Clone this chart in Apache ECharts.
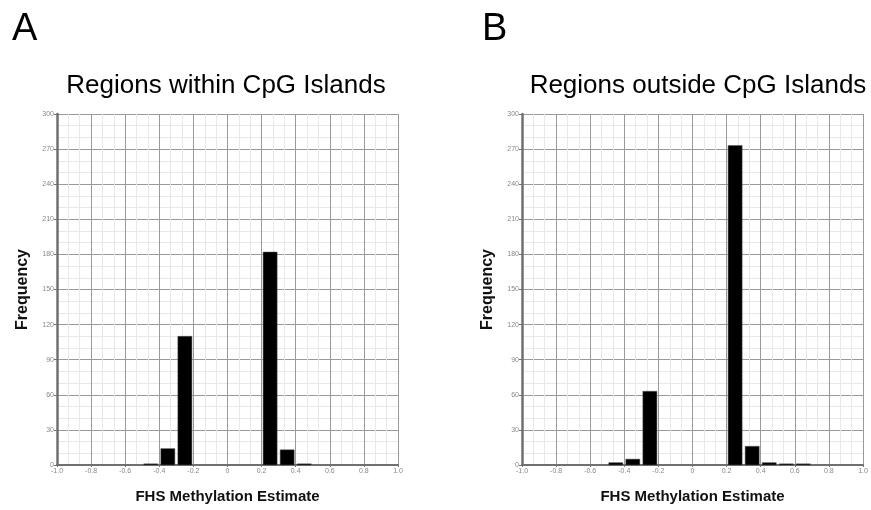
<!DOCTYPE html>
<html><head><meta charset="utf-8">
<script src="https://cdn.jsdelivr.net/npm/echarts@6/dist/echarts.min.js"></script>
<style>html,body{margin:0;padding:0;background:#fff}#c{width:871px;height:510px}</style>
</head><body><div id="c"></div>
<script>
const binStartsA = [-0.5, -0.4, -0.3, 0.2, 0.3, 0.4];
const countsA = [1, 14, 110, 182, 13, 1];
const binStartsB = [-0.5, -0.4, -0.3, 0.2, 0.3, 0.4, 0.5, 0.6];
const countsB = [2, 5, 63, 273, 16, 2, 1, 1];
const binWidth = 0.1;
const titleA = 'Regions within CpG Islands';
const titleB = 'Regions outside CpG Islands';
const xTitle = 'FHS Methylation Estimate';
const yTitle = 'Frequency';

const chart = echarts.init(document.getElementById('c'));
function xAxis(gi){
  return {type:'value', gridIndex:gi, min:-1, max:1, interval:0.2,
    axisLine:{show:true, onZero:false, lineStyle:{color:'#707070', width:2}},
    axisTick:{show:true, length:2, lineStyle:{color:'#707070'}},
    axisLabel:{fontSize:7, color:'#888', margin:3, fontFamily:'Liberation Sans',
      formatter:v=> Math.abs(v)<1e-9 ? '0' : v.toFixed(1)},
    splitLine:{show:true, lineStyle:{color:'#9a9a9a', width:1}},
    minorTick:{show:false, splitNumber:3},
    minorSplitLine:{show:true, lineStyle:{color:'#e8e8e8', width:1}},
    name:xTitle, nameLocation:'middle', nameGap:24,
    nameTextStyle:{fontSize:15, fontWeight:'bold', color:'#111', fontFamily:'Liberation Sans'}};
}
function yAxis(gi){
  return {type:'value', gridIndex:gi, min:0, max:300, interval:30,
    axisLine:{show:true, onZero:false, lineStyle:{color:'#707070', width:2.5}},
    axisTick:{show:true, length:3, lineStyle:{color:'#707070'}},
    axisLabel:{fontSize:7, color:'#888', margin:3, fontFamily:'Liberation Sans'},
    splitLine:{show:true, lineStyle:{color:'#9a9a9a', width:1}},
    minorTick:{show:false, splitNumber:3},
    minorSplitLine:{show:true, lineStyle:{color:'#e8e8e8', width:1}},
    name:yTitle, nameLocation:'middle', nameGap:26, nameRotate:90,
    nameTextStyle:{fontSize:16, fontWeight:'bold', color:'#111', fontFamily:'Liberation Sans'}};
}
function hist(gi, starts, counts){
  return {type:'custom', xAxisIndex:gi, yAxisIndex:gi,
    data: starts.map((s,i)=>[s, s+binWidth, counts[i]]),
    renderItem:(params, api)=>{
      const p0 = api.coord([api.value(0), api.value(2)]);
      const p1 = api.coord([api.value(1), 0]);
      return {type:'rect', shape:{x:p0[0]+1.5, y:p0[1], width:p1[0]-p0[0]-3, height:p1[1]-p0[1]},
        style:{fill:'#000', stroke:'#555', lineWidth:0.5}};
    }};
}
chart.setOption({
  animation:false,
  title:[
    {text:'A', left:7, top:6, textStyle:{fontSize:38, fontWeight:'normal', color:'#000', fontFamily:'Liberation Sans'}},
    {text:'B', left:477, top:6, textStyle:{fontSize:38, fontWeight:'normal', color:'#000', fontFamily:'Liberation Sans'}},
    {text:titleA, left:221, top:68, textAlign:'center', textStyle:{fontSize:26, fontWeight:'normal', color:'#000', fontFamily:'Liberation Sans'}},
    {text:titleB, left:693, top:68, textAlign:'center', textStyle:{fontSize:26, fontWeight:'normal', color:'#000', fontFamily:'Liberation Sans'}}
  ],
  grid:[
    {left:57, right:473, top:114, bottom:45},
    {left:522, right:8, top:114, bottom:45}
  ],
  xAxis:[xAxis(0), xAxis(1)],
  yAxis:[yAxis(0), yAxis(1)],
  series:[hist(0, binStartsA, countsA), hist(1, binStartsB, countsB)]
});
</script></body></html>
